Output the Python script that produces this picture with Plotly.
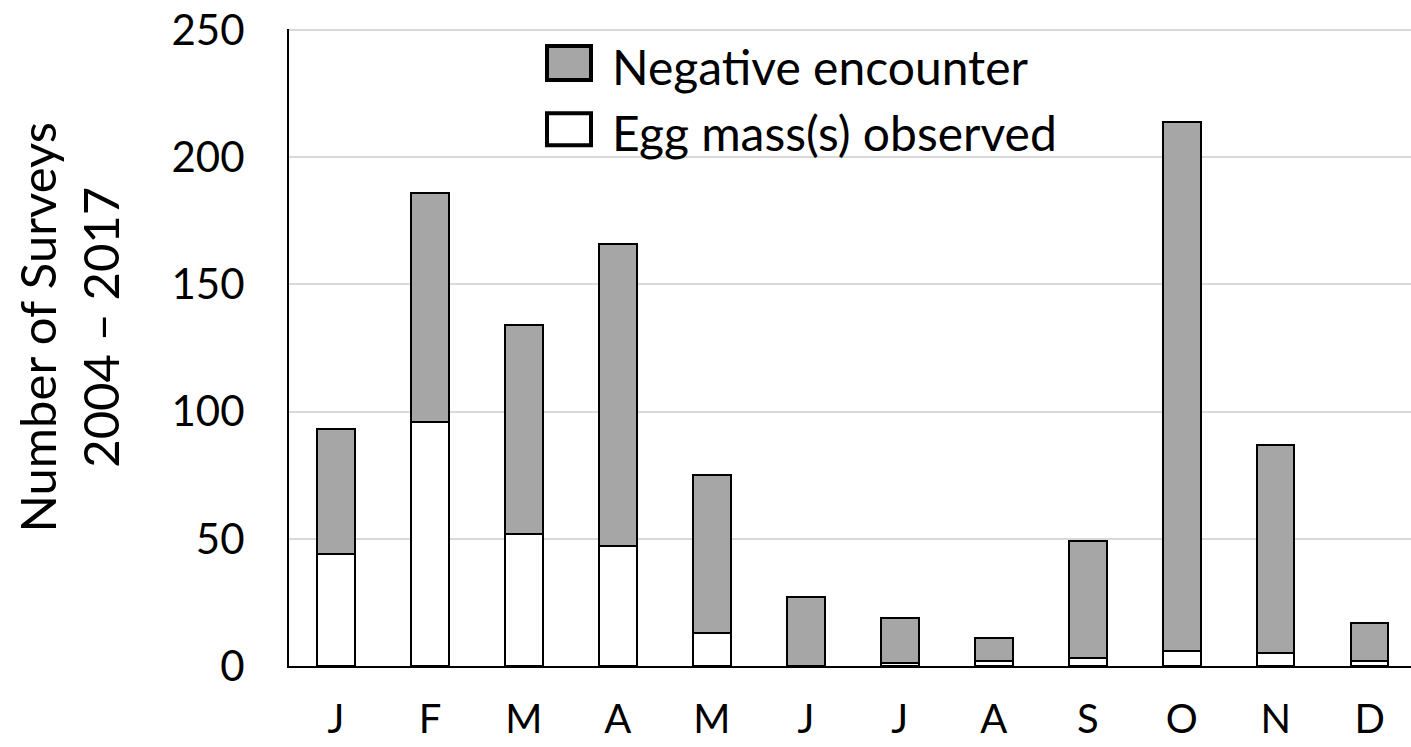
import plotly.graph_objects as go

months = ["J", "F", "M", "A", "M", "J", "J", "A", "S", "O", "N", "D"]
total_surveys = [93, 186, 134, 166, 75, 27, 19, 11, 49, 214, 87, 17]
egg_mass = [44, 96, 52, 47, 13, 0, 1, 2, 3, 6, 5, 2]
negative = [t - e for t, e in zip(total_surveys, egg_mass)]
x_idx = list(range(len(months)))
y_ticks = [0, 50, 100, 150, 200, 250]

FONT = "Lato"
GRAY = "#A6A6A6"
GRID = "#D9D9D9"

fig = go.Figure()
fig.add_trace(go.Bar(x=x_idx, y=egg_mass, name="Egg mass(s) observed",
                     marker=dict(color="white", line=dict(color="black", width=2)),
                     width=0.4, showlegend=False))
fig.add_trace(go.Bar(x=x_idx, y=negative, name="Negative encounter",
                     marker=dict(color=GRAY, line=dict(color="black", width=2)),
                     width=0.4, showlegend=False))

fig.update_layout(
    width=1411, height=747,
    margin=dict(l=289, r=0, t=29, b=81),
    barmode="stack",
    plot_bgcolor="white", paper_bgcolor="white",
    font=dict(family=FONT, color="black", size=42),
    xaxis=dict(range=[-0.5, 11.44], tickmode="array", tickvals=x_idx, ticktext=months,
               showline=True, linecolor="black", linewidth=2, showgrid=False,
               ticks="", tickfont=dict(size=40), ticklabelstandoff=17,
               automargin=False, fixedrange=True),
    yaxis=dict(range=[0, 250.4], tickvals=y_ticks,
               showline=True, linecolor="black", linewidth=2,
               showgrid=True, gridcolor=GRID, gridwidth=2,
               ticks="", ticklabelstandoff=34, tickfont=dict(size=42),
               ticklabeloverflow="allow", automargin=False, zeroline=False),
)

# top gridline (plotly hides the grid line at the range edge)
fig.add_shape(type="line", xref="paper", yref="y", x0=0, x1=1, y0=y_ticks[-1], y1=y_ticks[-1],
              line=dict(color=GRID, width=2), layer="below")

# y-axis title
fig.add_annotation(xref="paper", yref="paper", x=0, y=0.5, xanchor="center", yanchor="middle",
                   xshift=-221, yshift=20,
                   text="Number of Surveys<br>2004 – 2017", showarrow=False,
                   textangle=-90, font=dict(size=49, family=FONT), align="center")

# legend
legend_rows = [("Negative encounter", GRAY, 45, 83), ("Egg mass(s) observed", "white", 112, 148)]
for label, col, top, bot in legend_rows:
    fig.add_shape(type="rect", xref="paper", yref="paper",
                  x0=(547 - 289) / 1122, x1=(591 - 289) / 1122,
                  y0=1 - (bot - 2 - 30) / 636, y1=1 - (top + 2 - 30) / 636,
                  fillcolor=col, line=dict(color="black", width=4))
    fig.add_annotation(xref="paper", yref="paper", x=(610 - 289) / 1122,
                       y=1 - ((top + bot) / 2 + 3 - 30) / 636, xanchor="left", yanchor="middle",
                       text=label, showarrow=False, font=dict(size=48, family=FONT))

fig.write_html("out.html", config={"displayModeBar": False},
               post_script="document.body.style.margin='0';document.body.style.overflow='hidden';")
